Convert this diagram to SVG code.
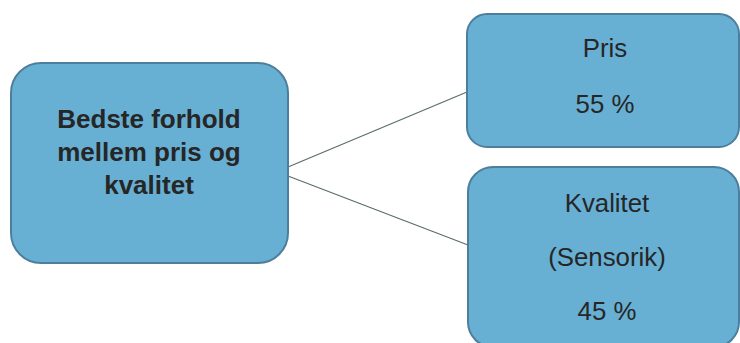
<svg xmlns="http://www.w3.org/2000/svg" width="740" height="343" viewBox="0 0 740 343">
<style>
.box{fill:#67b0d3;stroke:#4d7f9c;stroke-width:2}
.t{font-family:"Liberation Sans",Arial,sans-serif;fill:#262626;text-anchor:middle}
.b{font-weight:bold;font-size:26px}
.n{font-size:25.8px}
.c{stroke:#5a6e6a;stroke-width:1.2;fill:none}
</style>
<rect width="740" height="343" fill="#ffffff"/>
<g id="connectors">
<line class="c" x1="288" y1="167" x2="467" y2="92"/>
<line class="c" x1="288" y1="176" x2="468" y2="245"/>
</g>
<g id="main">
<rect class="box" x="11" y="63" width="277" height="200" rx="30"/>
<text class="t b" x="149" y="128">Bedste forhold</text>
<text class="t b" x="149" y="161">mellem pris og</text>
<text class="t b" x="149" y="194">kvalitet</text>
</g>
<g id="pris">
<rect class="box" x="467" y="14" width="272" height="133" rx="20"/>
<text class="t n" x="605" y="57">Pris</text>
<text class="t n" x="605" y="113">55 %</text>
</g>
<g id="kvalitet">
<rect class="box" x="468" y="167" width="271" height="180" rx="25"/>
<text class="t n" x="607" y="212">Kvalitet</text>
<text class="t n" x="607" y="266">(Sensorik)</text>
<text class="t n" x="607" y="320">45 %</text>
</g>
</svg>
